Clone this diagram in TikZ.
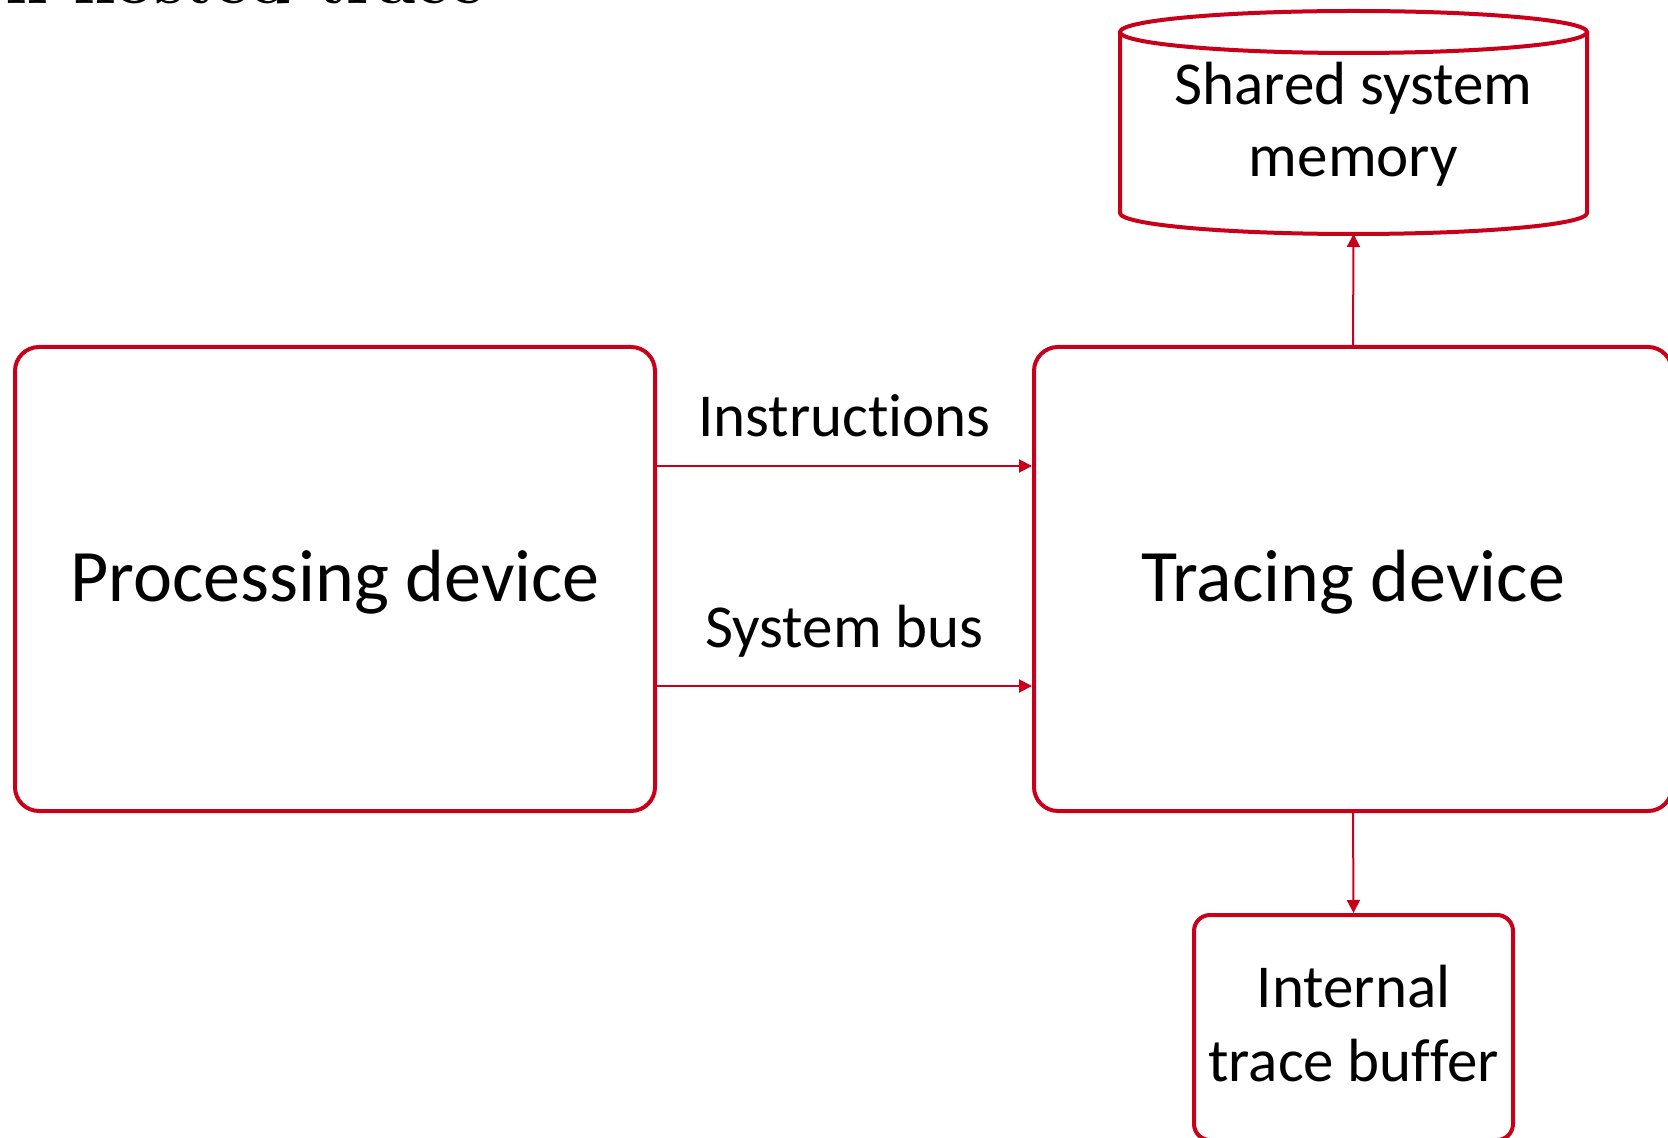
\documentclass[tikz,border=0pt]{standalone}
\usepackage{fontspec}
\newfontfamily\calfont[Ligatures=NoCommon]{Carlito}
\usetikzlibrary{arrows.meta}
\definecolor{boxred}{RGB}{200,0,26}
\begin{document}
\begin{tikzpicture}[x=0.5pt,y=-0.5pt,
  box/.style={draw=boxred, line width=2pt, rounded corners=12pt, inner sep=0pt},
  cyl/.style={draw=boxred, line width=2pt},
  arr/.style={draw=boxred, line width=1pt, -{Triangle[length=6.5pt,width=6.5pt]}},
  big/.style={font=\calfont\fontsize{37}{44}\selectfont, inner sep=0pt, anchor=base},
  lbl/.style={font=\calfont\fontsize{30.5}{37}\selectfont, inner sep=0pt, anchor=base}]
\useasboundingbox (0,0) rectangle (1668,1138);
\begin{scope}
\clip (0,0) rectangle (1668,1138);
% clipped title
\node[anchor=base west, inner sep=0pt, font=\bfseries\fontsize{34}{40}\selectfont] (title) at (5,4) {n hosted trace};
% boxes
\node[box, minimum width=320pt, minimum height=232pt] (proc) at (335,579) {};
\node[box, minimum width=319pt, minimum height=232pt] (trac) at (1353,579) {};
\node[box, rounded corners=8pt, minimum width=159.5pt, minimum height=112.5pt] (buf) at (1353.5,1027.5) {};
% cylinder
\draw[cyl] (1120,32) -- (1120,213) arc[start angle=180, end angle=360, x radius=116.75pt, y radius=10.5pt] -- (1587,32);
\draw[cyl] (1353.5,32) ellipse [x radius=116.75pt, y radius=10.5pt];
\node[minimum width=233.5pt, minimum height=101pt, inner sep=0pt, outer sep=0pt] (mem) at (1353.5,133) {};
% texts
\node[big] (proct) at ([yshift=-11pt]proc.center) {Processing device};
\node[big] (tract) at ([yshift=-11pt]trac.center) {Tracing device};
\node[lbl] (mem1) at (1353.5,105) {Shared system};
\node[lbl] (mem2) at (1353.5,177) {memory};
\node[lbl] (buf1) at (1353.5,1007) {Internal};
\node[lbl] (buf2) at (1353.5,1081) {trace buffer};
% connectors
\draw[arr] ([yshift=56.5pt]proc.east) -- node[lbl, midway, yshift=14.5pt] {Instructions} ([yshift=56.5pt]trac.west);
\draw[arr] ([yshift=-53.5pt]proc.east) -- node[lbl, midway, yshift=19.5pt] {System bus} ([yshift=-53.5pt]trac.west);
\draw[arr] (trac.north) -- (mem.south);
\draw[arr] (trac.south) -- (buf.north);
\end{scope}
\end{tikzpicture}
\end{document}
